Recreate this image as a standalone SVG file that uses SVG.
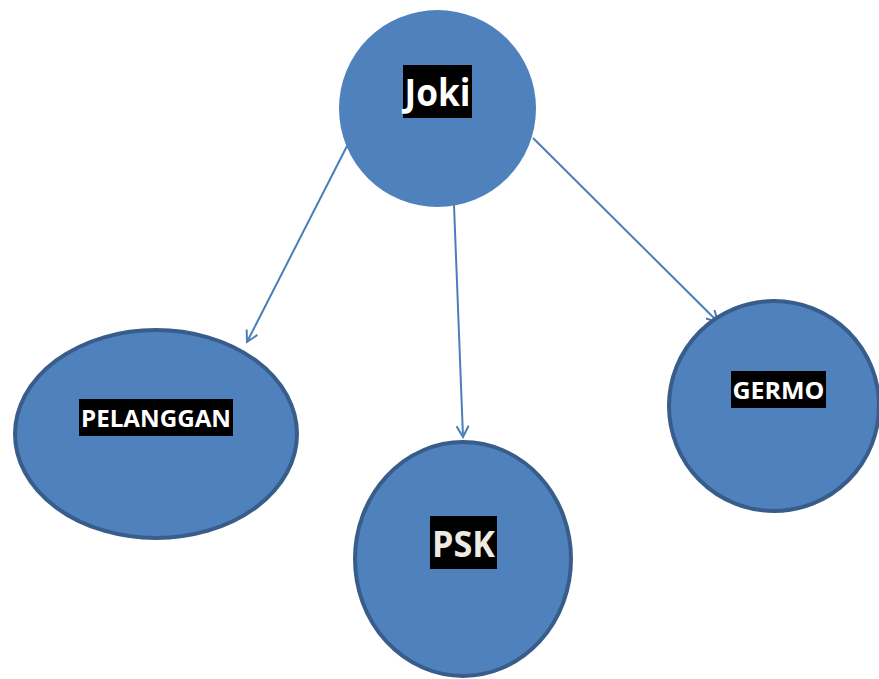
<svg xmlns="http://www.w3.org/2000/svg" width="879" height="679" viewBox="0 0 879 679">
<style>
.node{fill:#4F81BD;stroke:#385D8A;stroke-width:4}
.conn{stroke:#4A7EBB;stroke-width:2;fill:none;marker-end:url(#arr)}
.lbl{font-family:"Open Sans","Liberation Sans",sans-serif;font-weight:bold;fill:#FFFFFF;text-anchor:middle}
.bg{fill:#000000}
</style>
<defs>
<marker id="arr" viewBox="0 0 14 14" refX="12" refY="7" markerWidth="14" markerHeight="14" markerUnits="userSpaceOnUse" orient="auto">
<path d="M1,1 L12,7 L1,13" fill="none" stroke="#4A7EBB" stroke-width="2"/>
</marker>
</defs>
<g id="connectors">
<line class="conn" x1="347" y1="146" x2="247" y2="342"/>
<line class="conn" x1="454" y1="205" x2="463" y2="437"/>
<line class="conn" x1="533" y1="138" x2="718" y2="322"/>
</g>
<g id="joki">
<circle cx="437.5" cy="108.5" r="98.5" fill="#4F81BD"/>
<rect class="bg" x="403" y="65" width="69" height="53"/>
<text class="lbl" x="437.5" y="106" font-size="38" textLength="66" lengthAdjust="spacingAndGlyphs">Joki</text>
</g>
<g id="pelanggan">
<ellipse class="node" cx="156" cy="434" rx="141" ry="104"/>
<rect class="bg" x="79" y="399" width="154" height="37"/>
<text class="lbl" x="156" y="427" font-size="24" textLength="150" lengthAdjust="spacingAndGlyphs">PELANGGAN</text>
</g>
<g id="psk">
<ellipse class="node" cx="463" cy="559" rx="108" ry="117"/>
<rect class="bg" x="430" y="516" width="67" height="53"/>
<text class="lbl" x="463.5" y="557" font-size="36" textLength="63" lengthAdjust="spacingAndGlyphs" style="fill:#EEECE1">PSK</text>
</g>
<g id="germo">
<ellipse class="node" cx="774" cy="406" rx="105" ry="105"/>
<rect class="bg" x="731" y="371" width="95" height="37"/>
<text class="lbl" x="778.5" y="399" font-size="24" textLength="92" lengthAdjust="spacingAndGlyphs">GERMO</text>
</g>
</svg>
